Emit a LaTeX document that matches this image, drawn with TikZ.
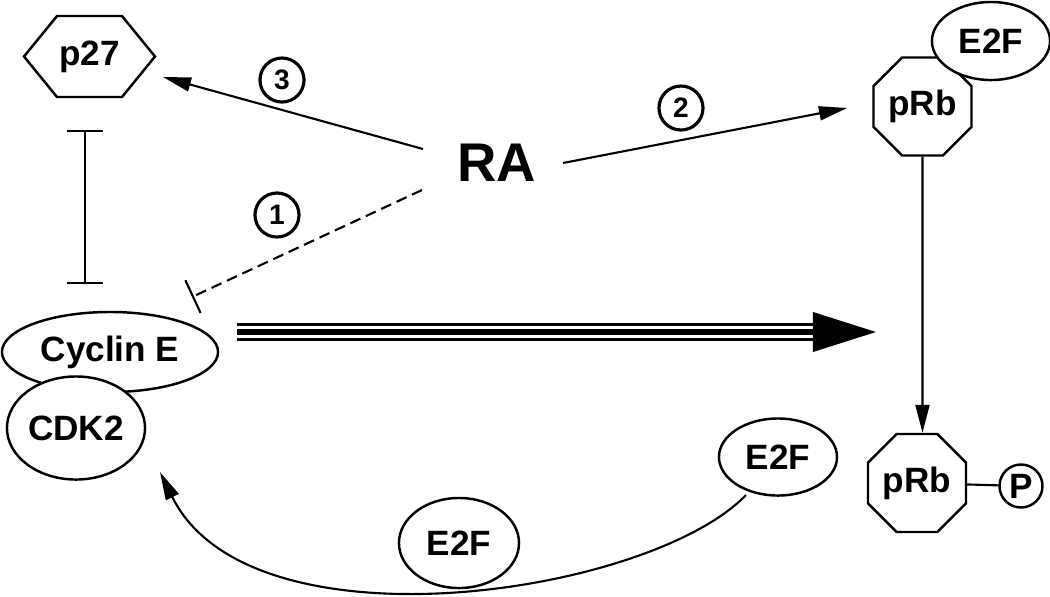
\documentclass[tikz,border=0pt]{standalone}
\usepackage{fontspec}
\setmainfont{Liberation Sans}
\usetikzlibrary{shapes.geometric,arrows.meta}

\begin{document}
\begin{tikzpicture}[x=0.01cm,y=-0.01cm]
  \tikzstyle{every node}=[font=\fontsize{10}{12}\selectfont\bfseries, inner sep=0pt]
  \tikzstyle{prot}=[draw, line width=0.7pt, fill=white, ellipse]
  \tikzstyle{octa}=[draw, line width=0.7pt, fill=white, regular polygon, regular polygon sides=8, minimum size=1.06cm]
  \tikzstyle{num}=[draw, circle, line width=0.9pt, minimum size=0.44cm, font=\fontsize{8}{8}\selectfont\bfseries]
  \tikzstyle{act}=[-{Triangle[length=0.28cm,width=0.14cm]}, line width=0.6pt]
  \tikzstyle{inhib}=[{Bar[width=0.36cm]}-{Bar[width=0.36cm]}, line width=0.6pt]
  \useasboundingbox (0,0) rectangle (1050,596);
  \node (p27) at (89.5,56.5) {p27};
  \draw[line width=0.7pt] ([shift={(-65.5,0)}]p27.center) -- ++(33,-40.5) -- ++(65,0) -- ++(33,40.5) -- ++(-33,40.5) -- ++(-65,0) -- cycle;
  \node[octa] (pRbT) at (922.5,106.5) {pRb};
  \node[prot, minimum width=1.18cm, minimum height=0.78cm] (E2Ft) at (991,41) {E2F};
  \node[font=\fontsize{15.5}{18}\selectfont\bfseries] (RA) at (497,163) {RA};
  \node[prot, minimum width=2.16cm, minimum height=0.8cm] (CycE) at (110,352) {Cyclin E};
  \node[prot, minimum width=1.38cm, minimum height=1.03cm] (CDK2) at (76,428) {CDK2};
  \node[octa] (pRbB) at (917,483) {pRb};
  \node[draw, circle, line width=0.7pt, minimum size=0.43cm] (P) at (1021,486) {P};
  \node[prot, minimum width=1.18cm, minimum height=0.77cm] (E2Fr) at (778,457) {E2F};
  \node[prot, minimum width=1.2cm, minimum height=0.9cm] (E2Fb) at (459,543) {E2F};
  \node[num] (n3) at (282,80) {3};
  \node[num] (n2) at (681,108) {2};
  \node[num] (n1) at (277,215) {1};
  \coordinate (tip) at (876,332);

  \draw[act] ([shift={(-74,-14)}]RA.center) -- ([shift={(73.5,20.5)}]p27.center);
  \draw[act] ([shift={(66,0)}]RA.center) -- ([shift={(-75.5,1.5)}]pRbT.center);
  \draw[line width=0.6pt, dash pattern=on 0.11cm off 0.06cm, -{Bar[width=0.36cm]}] ([shift={(-75,27)}]RA.center) -- ([shift={(82,-55)}]CycE.center);
  \draw[inhib] ([shift={(-4.5,73.5)}]p27.center) -- ([shift={(-25,-68)}]CycE.center);
  \draw[act] (pRbT) -- (pRbT |- pRbB.north);
  \draw[line width=0.6pt] (pRbB) -- (P);
  \draw[act] ([shift={(-32,38)}]E2Fr.center) .. controls (650,595) and (250,655) .. ([shift={(84,44)}]CDK2.center);
  \foreach \w/\c in {0.18cm/black,0.125cm/white,0.057cm/black}
    \draw[line width=\w, \c] ([shift={(127,-20)}]CycE.center) -- ([xshift=-0.63cm]tip);
  \fill ([shift={(-63,-20)}]tip) -- (tip) -- ([shift={(-63,20)}]tip) -- cycle;
\end{tikzpicture}
\end{document}
